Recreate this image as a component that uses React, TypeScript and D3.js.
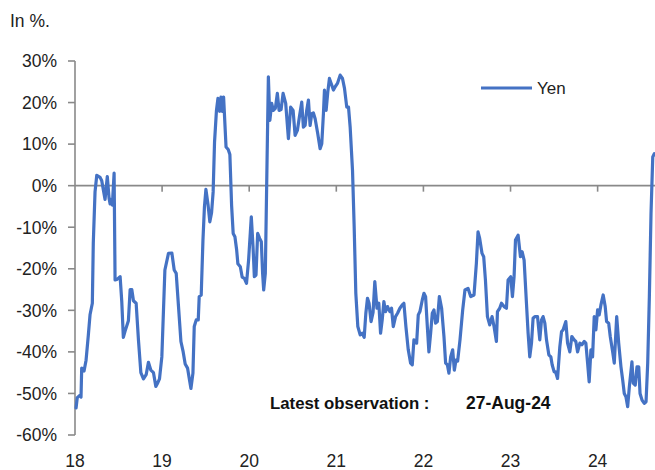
import React from "react";
import * as d3 from "d3";

// Time in years since 1-Jan-2018 (decimal), values in %
const yearsSince2018: number[] = [
  0.012, 0.026, 0.058, 0.069, 0.077, 0.104, 0.127, 0.153, 0.173, 0.199, 0.210, 0.230, 0.250, 0.288, 0.307, 0.345,
  0.371, 0.391, 0.403, 0.422, 0.429, 0.449, 0.460, 0.486, 0.518, 0.537, 0.555, 0.575, 0.613, 0.633, 0.652, 0.671,
  0.702, 0.728, 0.756, 0.786, 0.817, 0.843, 0.871, 0.901, 0.928, 0.951, 0.970, 0.997, 1.032, 1.073,
  1.112, 1.139, 1.162, 1.188, 1.216, 1.242, 1.265, 1.292, 1.315, 1.331, 1.354, 1.369, 1.392, 1.415, 1.426, 1.449,
  1.469, 1.486, 1.503, 1.527, 1.548, 1.568, 1.586, 1.602, 1.624, 1.641, 1.660, 1.676, 1.691, 1.706, 1.734, 1.759,
  1.778, 1.798, 1.816, 1.836, 1.856, 1.870, 1.898, 1.919, 1.944, 1.969, 1.993, 2.024, 2.044, 2.059, 2.078, 2.097,
  2.120, 2.139, 2.154, 2.166, 2.185, 2.205, 2.220, 2.237,
  2.258, 2.277, 2.300, 2.323, 2.343, 2.366, 2.389, 2.419, 2.450, 2.476, 2.504, 2.527, 2.553, 2.576, 2.603, 2.622,
  2.642, 2.660, 2.680, 2.699, 2.718, 2.737, 2.757, 2.787, 2.814, 2.833, 2.852, 2.864, 2.883, 2.902, 2.921, 2.941,
  2.967, 2.987, 3.013, 3.044, 3.071, 3.094, 3.120, 3.140, 3.159, 3.186, 3.205, 3.224, 3.247, 3.274, 3.297, 3.320,
  3.339, 3.358, 3.376, 3.399, 3.422, 3.442, 3.467, 3.488, 3.508, 3.527, 3.546, 3.565, 3.588, 3.615, 3.634, 3.654,
  3.680, 3.703, 3.730, 3.757, 3.776, 3.799, 3.826, 3.853, 3.872, 3.891, 3.922, 3.941, 3.960, 3.987, 4.006, 4.025,
  4.045, 4.063, 4.083, 4.102, 4.121, 4.140, 4.160, 4.183, 4.209, 4.236, 4.255, 4.275, 4.293, 4.313, 4.336, 4.355,
  4.374, 4.393, 4.420, 4.451, 4.477, 4.512, 4.543, 4.581, 4.608, 4.627, 4.646, 4.673, 4.692, 4.712, 4.735, 4.761,
  4.788, 4.811, 4.838, 4.850, 4.876, 4.896, 4.926, 4.953, 4.972, 5.003, 5.022, 5.041, 5.057, 5.087, 5.114, 5.133,
  5.156, 5.183, 5.202, 5.221, 5.241, 5.259, 5.279, 5.310, 5.336, 5.356, 5.374, 5.394, 5.413, 5.440, 5.463, 5.478,
  5.501, 5.517, 5.540, 5.566, 5.586, 5.604, 5.635, 5.655, 5.681, 5.704, 5.731, 5.750, 5.770, 5.796, 5.819, 5.846,
  5.865, 5.885, 5.903, 5.923, 5.942, 5.961, 5.980, 6.000, 6.018, 6.038, 6.064, 6.087, 6.103, 6.127, 6.145, 6.173,
  6.191, 6.219, 6.242, 6.268, 6.288, 6.306, 6.325, 6.345, 6.364, 6.394, 6.409, 6.432, 6.452, 6.472, 6.487, 6.510,
  6.536, 6.556, 6.575, 6.594, 6.613, 6.633, 6.651,
];

const yenValues: number[] = [
  -53.5, -51, -50.4, -50.9, -43.9, -44.6, -42, -36, -31, -28.3, -13.8, -1.5, 2.5, 2.0, 1.2, -3.3,
  2.2, -3, -4.4, -3.3, -4.7, 3.0, -22.7, -22.5, -21.9, -27.9, -36.5, -35, -32.5, -25, -25, -27.7,
  -28.3, -37, -45, -46.5, -45.5, -42.5, -44.4, -45, -48.3, -47.4, -46.5, -41.2, -20.3, -16.3,
  -16.2, -20.3, -21.1, -29, -37.5, -40, -42.9, -43.9, -46.8, -48.8, -45.1, -33.9, -32.3, -32.3, -26.7, -26.3,
  -13.1, -5.1, -0.9, -4.5, -8.7, -6.5, -1.5, 10.5, 18.1, 21, 17.9, 21.3, 17.9, 21.3, 9.3, 8.7,
  7.5, -4.8, -11.5, -12.3, -15.5, -18.8, -19.5, -22, -22.3, -23.5, -17.9, -7.5, -14.7, -21.9, -21.5, -11.5,
  -12.7, -13.5, -21.1, -25.1, -21.1, 6.1, 26.2, 15.7,
  19.8, 18.1, 18.6, 22.2, 18.1, 18.3, 22.2, 19.8, 11.3, 18.9, 18.1, 12.1, 13.3, 16.5, 20.1, 14.1,
  14.5, 18.1, 20.6, 14.5, 17.3, 17.5, 16.1, 12.5, 8.9, 10.1, 17.3, 23, 18.1, 22.5, 25.8, 24.6,
  23, 23.8, 24.6, 26.6, 25.8, 23.4, 18.9, 18.9, 14.1, 3.7, -9.9, -25.9, -33.9, -35.9, -35.5, -36.5,
  -30.7, -27.1, -28.3, -32.7, -30.5, -23.1, -29.5, -28.3, -35.5, -32.3, -27.9, -30.3, -29.1, -30.3, -29.5, -33.9,
  -31.5, -30.7, -29.5, -28.7, -28.3, -33.9, -39.5, -42.7, -43.1, -37.1, -37.9, -31.1, -30.3, -27.5, -25.9, -26.7,
  -33.9, -40, -35.5, -30.7, -29.9, -33.1, -32.7, -26.7, -29.5, -36.3, -42.7, -43.1, -45.1, -41.2, -39.5, -44.4,
  -42, -42.2, -37.1, -29.9, -25.1, -24.7, -26.7, -26.3, -18.7, -11.1, -12.7, -16.3, -17.1, -22.7, -31.5, -33.5,
  -31.5, -33.9, -37.5, -30.3, -29.5, -28.3, -29.1, -29.5, -22.7, -21.9, -26.7, -21.9, -13.1, -11.9, -17.1, -15.9,
  -17.9, -28.3, -35.5, -41.2, -37.9, -31.9, -31.5, -31.5, -37.1, -32.3, -31.5, -33.1, -37.1, -40.7, -41.2, -43.1,
  -44.8, -44.8, -46.4, -38.8, -35.1, -34.7, -32.7, -37.9, -40, -36.3, -37.1, -37.5, -40, -37.9, -38.3, -37.5,
  -37.9, -42.7, -47.2, -39.5, -41.2, -31.5, -34.7, -29.9, -31.1, -28.7, -26.3, -29.1, -32.7, -33.1, -36.3, -40,
  -42.7, -31.5, -37.9, -43.6, -46.8, -50, -50.8, -53.2, -48.4, -42.4, -47.5, -48, -43.6, -43.6, -50, -51.6,
  -52.4, -52, -42.7, -26.7, -6.7, 6.9, 7.7,
];

const yTicks: number[] = [30, 20, 10, 0, -10, -20, -30, -40, -50, -60];
const xTickYears: number[] = [0, 1, 2, 3, 4, 5, 6];
const xTickLabels: string[] = ["18", "19", "20", "21", "22", "23", "24"];
const seriesName = "Yen";
const unitLabel = "In %.";
const noteLabel = "Latest observation :";
const noteDate = "27-Aug-24";
const lastObs = 6.653;

const FONT = "'Liberation Sans', Arial, sans-serif";
const AXIS = "#898989";
const LINE = "#4472C4";

export default function App() {
  const x = d3.scaleLinear().domain([0, lastObs]).range([75, 654.5]);
  const y = d3.scaleLinear().domain([-60, 30]).range([435, 61]);
  const pts: [number, number][] = yearsSince2018.map((t, i) => [t, yenValues[i]]);
  const line = d3
    .line<[number, number]>()
    .x((d) => x(d[0]))
    .y((d) => y(d[1]))
    .curve(d3.curveLinear);
  const y0 = y(0);

  return (
    <svg width={655} height={470} style={{ position: "absolute", left: 0, top: 0 }} fontFamily={FONT}>
      <rect width={655} height={470} fill="#fff" />
      <text x={10} y={27} fontSize={17.5} fill="#222">
        {unitLabel}
      </text>
      {/* y axis */}
      <line x1={x(0)} x2={x(0)} y1={y(30)} y2={y(-60)} stroke={AXIS} strokeWidth={1.6} />
      {yTicks.map((v) => (
        <g key={v}>
          <line x1={x(0) - 7} x2={x(0)} y1={y(v)} y2={y(v)} stroke={AXIS} strokeWidth={1.6} />
          <text x={57} y={y(v)} dy="0.36em" textAnchor="end" fontSize={17.5} fill="#222">
            {v}%
          </text>
        </g>
      ))}
      {/* zero line with year ticks */}
      <line x1={x(0)} x2={655} y1={y0} y2={y0} stroke={AXIS} strokeWidth={1.6} />
      {xTickYears.map((t, i) => (
        <g key={t}>
          {t > 0 && <line x1={x(t)} x2={x(t)} y1={y0} y2={y0 + 6} stroke={AXIS} strokeWidth={1.6} />}
          <text x={x(t)} y={467} textAnchor="middle" fontSize={17.5} fill="#222">
            {xTickLabels[i]}
          </text>
        </g>
      ))}
      {/* series */}
      <path d={line(pts) ?? ""} fill="none" stroke={LINE} strokeWidth={3.2} strokeLinejoin="round" strokeLinecap="round" />
      {/* legend */}
      <line x1={481} x2={532} y1={88} y2={88} stroke={LINE} strokeWidth={3.2} />
      <text x={537} y={88} dy="0.36em" fontSize={17} fill="#222">
        {seriesName}
      </text>
      {/* note */}
      <text x={270} y={409} fontSize={16.8} fontWeight="bold" fill="#111">
        {noteLabel}
      </text>
      <text x={466} y={409} fontSize={17.5} fontWeight="bold" fill="#111">
        {noteDate}
      </text>
    </svg>
  );
}
